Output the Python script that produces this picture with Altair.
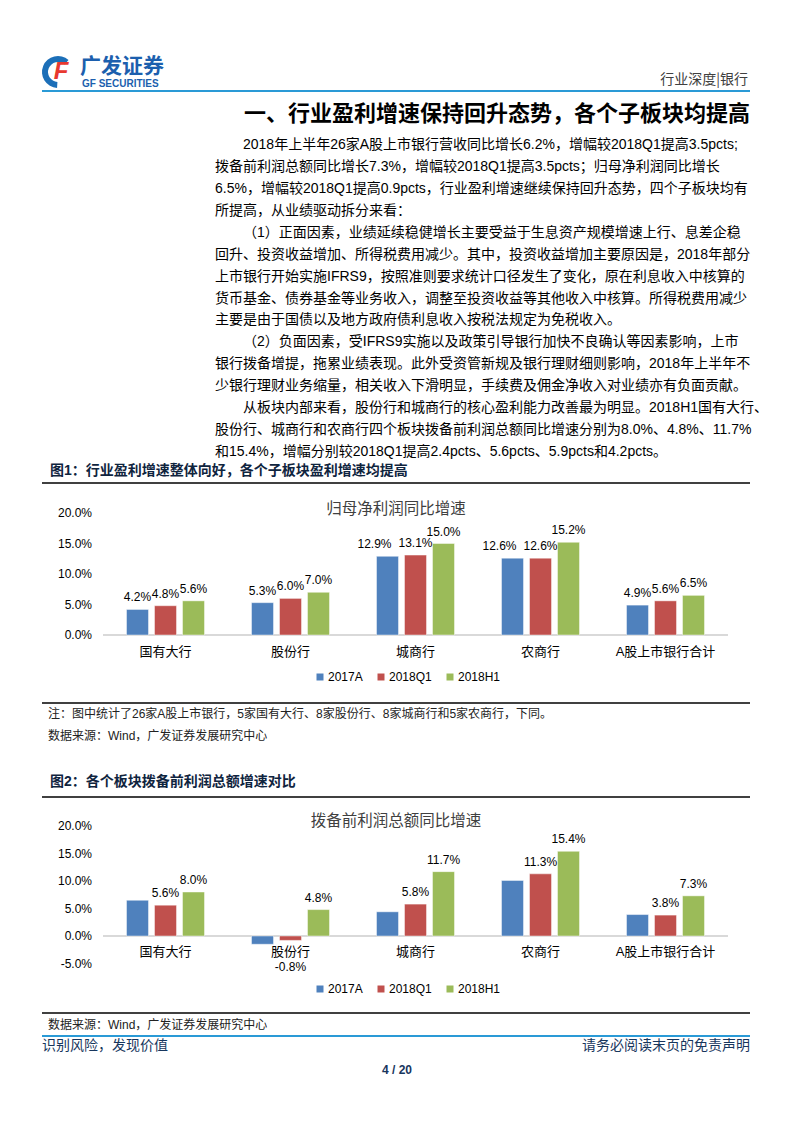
import altair as alt
import pandas as pd

# ---------------- data ----------------
categories = ["国有大行", "股份行", "城商行", "农商行", "A股上市银行合计"]
series = ["2017A", "2018Q1", "2018H1"]
series_colors = ["#4F81BD", "#C0504D", "#9BBB59"]

# 图1 归母净利润同比增速 (%)
np_2017A = [4.2, 5.3, 12.9, 12.6, 4.9]
np_2018Q1 = [4.8, 6.0, 13.1, 12.6, 5.6]
np_2018H1 = [5.6, 7.0, 15.0, 15.2, 6.5]
np_labelled = ["2017A", "2018Q1", "2018H1"]

# 图2 拨备前利润总额同比增速 (%)
pp_2017A = [6.5, -1.5, 4.4, 10.1, 3.9]
pp_2018Q1 = [5.6, -0.8, 5.8, 11.3, 3.8]
pp_2018H1 = [8.0, 4.8, 11.7, 15.4, 7.3]
pp_labelled = ["2018Q1", "2018H1"]

ticks1 = [0, 5, 10, 15, 20]
ticks2 = [-5, 0, 5, 10, 15, 20]

chart1_title = "归母净利润同比增速"
chart2_title = "拨备前利润总额同比增速"

header_right = "行业深度|银行"
logo_cn = "广发证券"
logo_en = "GF SECURITIES"
section_title = "一、行业盈利增速保持回升态势，各个子板块均提高"
body_lines = [
    "2018年上半年26家A股上市银行营收同比增长6.2%，增幅较2018Q1提高3.5pcts;",
    "拨备前利润总额同比增长7.3%，增幅较2018Q1提高3.5pcts；归母净利润同比增长",
    "6.5%，增幅较2018Q1提高0.9pcts，行业盈利增速继续保持回升态势，四个子板块均有",
    "所提高，从业绩驱动拆分来看：",
    "（1）正面因素，业绩延续稳健增长主要受益于生息资产规模增速上行、息差企稳",
    "回升、投资收益增加、所得税费用减少。其中，投资收益增加主要原因是，2018年部分",
    "上市银行开始实施IFRS9，按照准则要求统计口径发生了变化，原在利息收入中核算的",
    "货币基金、债券基金等业务收入，调整至投资收益等其他收入中核算。所得税费用减少",
    "主要是由于国债以及地方政府债利息收入按税法规定为免税收入。",
    "（2）负面因素，受IFRS9实施以及政策引导银行加快不良确认等因素影响，上市",
    "银行拨备增提，拖累业绩表现。此外受资管新规及银行理财细则影响，2018年上半年不",
    "少银行理财业务缩量，相关收入下滑明显，手续费及佣金净收入对业绩亦有负面贡献。",
    "从板块内部来看，股份行和城商行的核心盈利能力改善最为明显。2018H1国有大行、",
    "股份行、城商行和农商行四个板块拨备前利润总额同比增速分别为8.0%、4.8%、11.7%",
    "和15.4%，增幅分别较2018Q1提高2.4pcts、5.6pcts、5.9pcts和4.2pcts。",
]
indented_lines = [0, 4, 9, 12]
fig1_title = "图1：行业盈利增速整体向好，各个子板块盈利增速均提高"
fig2_title = "图2：各个板块拨备前利润总额增速对比"
note1 = "注：图中统计了26家A股上市银行，5家国有大行、8家股份行、8家城商行和5家农商行，下同。"
source_text = "数据来源：Wind，广发证券发展研究中心"
footer_left = "识别风险，发现价值"
footer_right = "请务必阅读末页的免责声明"
page_no = "4 / 20"

# ---------------- styling / layout ----------------
M = 8  # page margin
FONT = "Liberation Sans, Noto Sans CJK SC"
CJK = "Noto Sans CJK SC"
NAVY = "#17365D"
ONE = pd.DataFrame({"k": [0]})


def px(v):
    return v - M


def text_layer(rows, **mark):
    df = pd.DataFrame(rows, columns=["t", "x", "y"])
    return alt.Chart(df).mark_text(baseline="middle", **mark).encode(
        x=alt.X("x:Q", scale=None, axis=None),
        y=alt.Y("y:Q", scale=None, axis=None),
        text="t:N",
    )


def hrule(y, x1, x2, color, width):
    return alt.Chart(ONE).mark_rule(color=color, strokeWidth=width).encode(
        x=alt.value(px(x1)), x2=alt.value(px(x2)), y=alt.value(px(y))
    )


def long_df(a, b, c, labelled, tag):
    rows = []
    for s, vals in zip(series, [a, b, c]):
        for cat, v in zip(categories, vals):
            rows.append({
                f"cat{tag}": cat, f"ser{tag}": s, f"val{tag}": v,
                f"lab{tag}": (f"{v:.1f}%" if s in labelled else ""),
            })
    return pd.DataFrame(rows)


def panel(df, tag, y_dom, y_px, ticks, title, title_y, cat_y, legend_y, neg_dy):
    c, s, v, lab = f"cat{tag}", f"ser{tag}", f"val{tag}", f"lab{tag}"
    xs = alt.Scale(domain=categories, range=[px(103), px(728)],
                   paddingInner=0.376, paddingOuter=0.188)
    ys = alt.Scale(domain=y_dom, range=[px(y_px[0]), px(y_px[1])], nice=False)
    offs = alt.Scale(domain=series, paddingInner=0.214, paddingOuter=0)
    cs = alt.Scale(domain=series, range=series_colors)
    X = alt.X(f"{c}:N", scale=xs, axis=None)
    XO = alt.XOffset(f"{s}:N", scale=offs)
    Y = alt.Y(f"{v}:Q", scale=ys, axis=None)

    base = alt.Chart(df)
    bars = base.mark_bar(stroke="#ffffff", strokeOpacity=0.45, strokeWidth=1).encode(
        x=X, xOffset=XO, y=Y,
        color=alt.Color(f"{s}:N", scale=cs, legend=alt.Legend(
            orient="none", legendX=px(314), legendY=px(legend_y) - 6,
            direction="horizontal", title=None, symbolType="square",
            symbolSize=49, symbolStrokeWidth=0, labelFont="Liberation Sans",
            labelFontSize=12, labelColor="#000000", columnPadding=12,
            labelOffset=2, padding=0)),
    )
    lab_style = dict(baseline="middle", font="Liberation Sans", fontSize=12, color="#000000")
    # labels wide enough to collide with their neighbour are nudged left (as Excel does)
    wide_first = f"datum.{s} == '{series[0]}' && datum.{v} >= 10"
    lab_pos = base.transform_filter(
        f"datum.{lab} != '' && datum.{v} >= 0 && !({wide_first})"
    ).mark_text(dy=-12, **lab_style).encode(x=X, xOffset=XO, y=Y, text=f"{lab}:N")
    lab_wide = base.transform_filter(
        f"datum.{lab} != '' && ({wide_first})"
    ).mark_text(dy=-12, dx=-13, **lab_style).encode(x=X, xOffset=XO, y=Y, text=f"{lab}:N")
    lab_neg = base.transform_filter(f"datum.{lab} != '' && datum.{v} < 0").mark_text(
        dy=neg_dy, **lab_style
    ).encode(x=X, xOffset=XO, y=Y, text=f"{lab}:N")

    zero = alt.Chart(ONE).mark_rule(color="#D9D9D9", strokeWidth=2).encode(
        y=alt.Y(datum=0, scale=ys, axis=None), x=alt.value(px(103)), x2=alt.value(px(728))
    )
    tdf = pd.DataFrame({f"tick{tag}": ticks, f"tl{tag}": [f"{t:.1f}%" for t in ticks]})
    tick_labels = alt.Chart(tdf).mark_text(
        align="right", baseline="middle", font="Liberation Sans", fontSize=12, color="#000000"
    ).encode(y=alt.Y(f"tick{tag}:Q", scale=ys, axis=None), x=alt.value(px(92)),
             text=f"tl{tag}:N")
    cdf = pd.DataFrame({c: categories})
    cat_labels = alt.Chart(cdf).mark_text(
        baseline="middle", font=FONT, fontSize=13, color="#000000"
    ).encode(x=X, y=alt.value(px(cat_y)), text=f"{c}:N")
    ttl = text_layer([[title, px(396), px(title_y)]], font=CJK, fontSize=15.5,
                     color="#404040", align="center")
    return alt.layer(zero, bars, lab_pos, lab_wide, lab_neg, tick_labels, cat_labels, ttl)


df1 = long_df(np_2017A, np_2018Q1, np_2018H1, np_labelled, "1")
df2 = long_df(pp_2017A, pp_2018Q1, pp_2018H1, pp_labelled, "2")

p1 = panel(df1, "1", [0, 20], (635, 513), ticks1, chart1_title, 509, 652, 677, 27)
p2 = panel(df2, "2", [-5, 20], (963.5, 826), ticks2, chart2_title, 821, 952, 989, 27)

# ---------------- page text ----------------
body_rows = []
for i, line in enumerate(body_lines):
    x0 = 243 if i in indented_lines else 215
    body_rows.append([line, px(x0), px(145 + 21.93 * i)])

layers = [
    # logo
    alt.Chart(ONE).mark_arc(radius=16, radius2=10, theta=3.2, theta2=7.0,
                            color="#1C6FB8").encode(x=alt.value(px(58)), y=alt.value(px(72))),
    text_layer([["F", px(61), px(72)]], font="Liberation Sans", fontSize=24,
               fontWeight="bold", fontStyle="italic", color="#E8382F", align="center"),
    text_layer([[logo_cn, px(80), px(67)]], font=CJK, fontSize=21, fontWeight="bold",
               color="#1C5FAE", align="left"),
    text_layer([[logo_en, px(82), px(84)]], font="Liberation Sans", fontSize=10,
               fontWeight="bold", color="#1C5FAE", align="left"),
    text_layer([[header_right, px(748), px(80)]], font=CJK, fontSize=14,
               color="#404040", align="right"),
    hrule(91, 42, 750, "#2A9AD6", 2),
    text_layer([[section_title, px(750), px(114)]], font=CJK, fontSize=22,
               fontWeight="bold", color="#000000", align="right"),
    text_layer(body_rows, font=FONT, fontSize=14, color="#000000", align="left"),
    # figure 1 frame
    text_layer([[fig1_title, px(50), px(471)]], font=FONT, fontSize=14,
               fontWeight="bold", color="#0F243E", align="left"),
    hrule(483, 42, 750, "#000000", 1.5),
    hrule(703, 42, 750, "#000000", 1.5),
    text_layer([[note1, px(48), px(714)], [source_text, px(48), px(736)]],
               font=FONT, fontSize=12, color="#222222", align="left"),
    # figure 2 frame
    text_layer([[fig2_title, px(50), px(782)]], font=FONT, fontSize=14,
               fontWeight="bold", color="#0F243E", align="left"),
    hrule(797, 42, 750, "#000000", 1.5),
    hrule(1013, 42, 750, "#000000", 1.5),
    text_layer([[source_text, px(48), px(1025)]], font=FONT, fontSize=12,
               color="#222222", align="left"),
    # footer
    hrule(1036, 42, 750, "#2A9AD6", 2),
    text_layer([[footer_left, px(42), px(1046)]], font=CJK, fontSize=14,
               color=NAVY, align="left"),
    text_layer([[footer_right, px(750), px(1046)]], font=CJK, fontSize=14,
               color=NAVY, align="right"),
    text_layer([[page_no, px(397), px(1070)]], font="Liberation Sans", fontSize=12,
               fontWeight="bold", color=NAVY, align="center"),
    p1,
    p2,
]

chart = alt.layer(*layers).resolve_scale(
    x="independent", y="independent", color="independent", xOffset="independent"
).resolve_legend(color="independent").properties(
    width=777, height=1106, autosize=alt.AutoSizeParams(type="none"), padding=0
).configure_view(stroke=None)

chart.save("out.html", embed_options={"renderer": "svg", "actions": False})
